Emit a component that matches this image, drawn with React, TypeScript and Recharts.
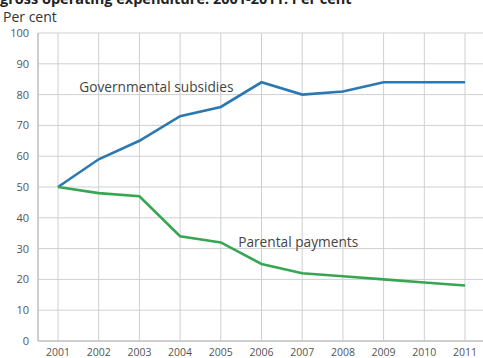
import React from "react";
import { LineChart, Line, XAxis, YAxis, CartesianGrid, ReferenceDot } from "recharts";

const years = ["2001", "2002", "2003", "2004", "2005", "2006", "2007", "2008", "2009", "2010", "2011"];
const governmental = [50, 59, 65, 73, 76, 84, 80, 81, 84, 84, 84];
const parental = [50, 48, 47, 34, 32, 25, 22, 21, 20, 19, 18];
const yTicks = [0, 10, 20, 30, 40, 50, 60, 70, 80, 90, 100];
const titleText = "gross operating expenditure. 2001-2011. Per cent";
const unitText = "Per cent";
const govLabel = "Governmental subsidies";
const parLabel = "Parental payments";

const data = years.map((y, i) => ({ year: y, gov: governmental[i], par: parental[i] }));

const FONT = "'Open Sans', 'Noto Sans', sans-serif";

export default function App() {
  return (
    <div style={{ position: "absolute", left: 0, top: 0, width: 483, height: 358, overflow: "hidden", background: "#fff", fontFamily: FONT }}>
      <div style={{ position: "absolute", left: 0, top: -11, fontSize: 14.5, fontWeight: 700, color: "#222", whiteSpace: "nowrap" }}>{titleText}</div>
      <div style={{ position: "absolute", left: 3, top: 7, fontSize: 14, color: "#333", whiteSpace: "nowrap" }}>{unitText}</div>
      <LineChart width={483} height={358} data={data} margin={{ top: 33, right: -2, bottom: 1, left: 0 }}>
        <CartesianGrid stroke="#cfcfcf" strokeWidth={1} />
        <XAxis
          dataKey="year"
          padding={{ left: 20, right: 20 }}
          tickLine={false}
          axisLine={{ stroke: "#b5b5b5" }}
          tick={{ fontSize: 10.5, fill: "#555", fontFamily: FONT }}
          tickMargin={2}
          height={16}
          interval={0}
        />
        <YAxis
          domain={[0, 100]}
          ticks={yTicks}
          tickLine={false}
          axisLine={{ stroke: "#b5b5b5" }}
          tick={{ fontSize: 11, fill: "#555", fontFamily: FONT }}
          tickMargin={3}
          width={38}
          interval={0}
        />
        <Line type="linear" dataKey="gov" stroke="#2b78b2" strokeWidth={2.6} dot={false} isAnimationActive={false} />
        <Line type="linear" dataKey="par" stroke="#37a653" strokeWidth={2.6} dot={false} isAnimationActive={false} />
        <ReferenceDot x="2003" y={82.5} r={1} fill="none" stroke="none"
          label={{ value: govLabel, position: "center", dx: 17, fontSize: 13.7, fill: "#444", fontFamily: FONT }} />
        <ReferenceDot x="2007" y={32.2} r={1} fill="none" stroke="none"
          label={{ value: parLabel, position: "center", dx: -4, fontSize: 13.7, fill: "#444", fontFamily: FONT }} />
      </LineChart>
    </div>
  );
}
